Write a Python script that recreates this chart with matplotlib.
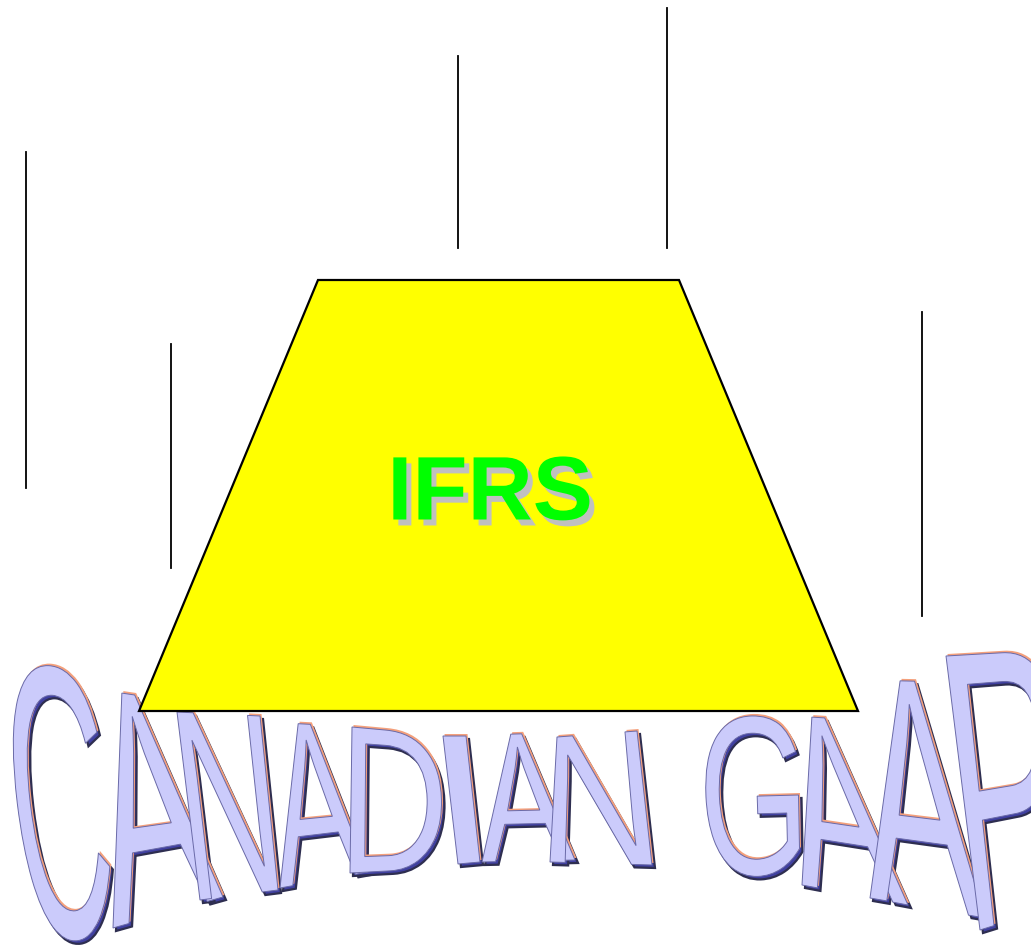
import numpy as np
import matplotlib
matplotlib.use("Agg")
import matplotlib.pyplot as plt
from matplotlib.patches import Polygon, PathPatch
from matplotlib.path import Path
from matplotlib.textpath import TextPath
from matplotlib.font_manager import FontProperties
import matplotlib.patheffects as pe

W, H = 1031, 946

# Trapezoid (IFRS block)
trap_x = [318, 679, 858, 139]
trap_y = [280, 280, 711, 711]
center_label = "IFRS"

# Vertical lines
line_x = [26, 171, 458, 667, 922]
line_top = [152, 344, 56, 8, 312]
line_bottom = [488, 568, 248, 248, 616]

# WordArt letters and their quads (TL, TR, BR, BL)
wordart_letters = ["C", "A", "N", "A", "D", "I", "A", "N", "G", "A", "A", "P"]
quad_tl = [(0, 663), (88, 688), (177, 712), (266, 722), (352, 727), (443, 736),
           (482, 735), (557, 737), (702, 717), (778, 715), (862, 680), (946, 656)]
quad_tr = [(92, 668), (168, 700), (260, 716), (342, 726), (440, 735), (466, 736),
           (550, 733), (637, 731), (797, 715), (858, 720), (952, 682), (1050, 650)]
quad_br = [(116, 935), (223, 897), (278, 890), (368, 872), (443, 868), (480, 862),
           (575, 860), (652, 865), (800, 875), (908, 905), (985, 918), (1060, 905)]
quad_bl = [(35, 947), (113, 928), (200, 900), (280, 888), (350, 873), (458, 864),
           (482, 862), (550, 862), (710, 878), (802, 885), (870, 898), (980, 930)]

fig = plt.figure(figsize=(W / 100, H / 100), dpi=100)
ax = fig.add_axes([0, 0, 1, 1])
ax.set_xlim(0, W)
ax.set_ylim(H, 0)
ax.axis("off")

fp = FontProperties(family="Liberation Sans")


def warp_letter(ch, tl, tr, br, bl):
    tp = TextPath((0, 0), ch, size=100, prop=fp)
    verts = tp.vertices.copy()
    ext = tp.get_extents()
    u = (verts[:, 0] - ext.x0) / (ext.x1 - ext.x0)
    v = (ext.y1 - verts[:, 1]) / (ext.y1 - ext.y0)
    tl, tr, br, bl = map(np.array, (tl, tr, br, bl))
    pts = ((1 - u)[:, None] * (1 - v)[:, None] * tl + u[:, None] * (1 - v)[:, None] * tr
           + u[:, None] * v[:, None] * br + (1 - u)[:, None] * v[:, None] * bl)
    return Path(pts, tp.codes)


for ch, tl, tr, br, bl in zip(wordart_letters, quad_tl, quad_tr, quad_br, quad_bl):
    p = warp_letter(ch, tl, tr, br, bl)
    # extrusion shadow
    sh = Path(p.vertices + np.array([3.0, 3.0]), p.codes)
    ax.add_patch(PathPatch(sh, facecolor="#4040a0", edgecolor="#2e2e50", lw=1.6, zorder=1))
    # orange highlight
    hl = Path(p.vertices + np.array([1.5, -2.0]), p.codes)
    ax.add_patch(PathPatch(hl, facecolor="#f4a07c", edgecolor="none", zorder=2))
    # main face
    ax.add_patch(PathPatch(p, facecolor="#cbcbfb", edgecolor="#6a6aa8", lw=0.7, zorder=3))

# Trapezoid
ax.add_patch(Polygon(list(zip(trap_x, trap_y)), closed=True, facecolor="#ffff00",
                     edgecolor="black", lw=1.6, zorder=5))

# Vertical lines
for x, y0, y1 in zip(line_x, line_top, line_bottom):
    ax.plot([x, x], [y0, y1], color="black", lw=1.3, zorder=5)

# IFRS label with shadow
ax.text(490, 496, center_label, color="#00ff00", fontsize=65, fontweight="bold",
        family="Liberation Sans", ha="center", va="center", zorder=7,
        path_effects=[pe.withSimplePatchShadow(offset=(3.6, -4.3), shadow_rgbFace="#c0c0c0",
                                               alpha=1.0)])

fig.savefig("out.png", dpi=100)
